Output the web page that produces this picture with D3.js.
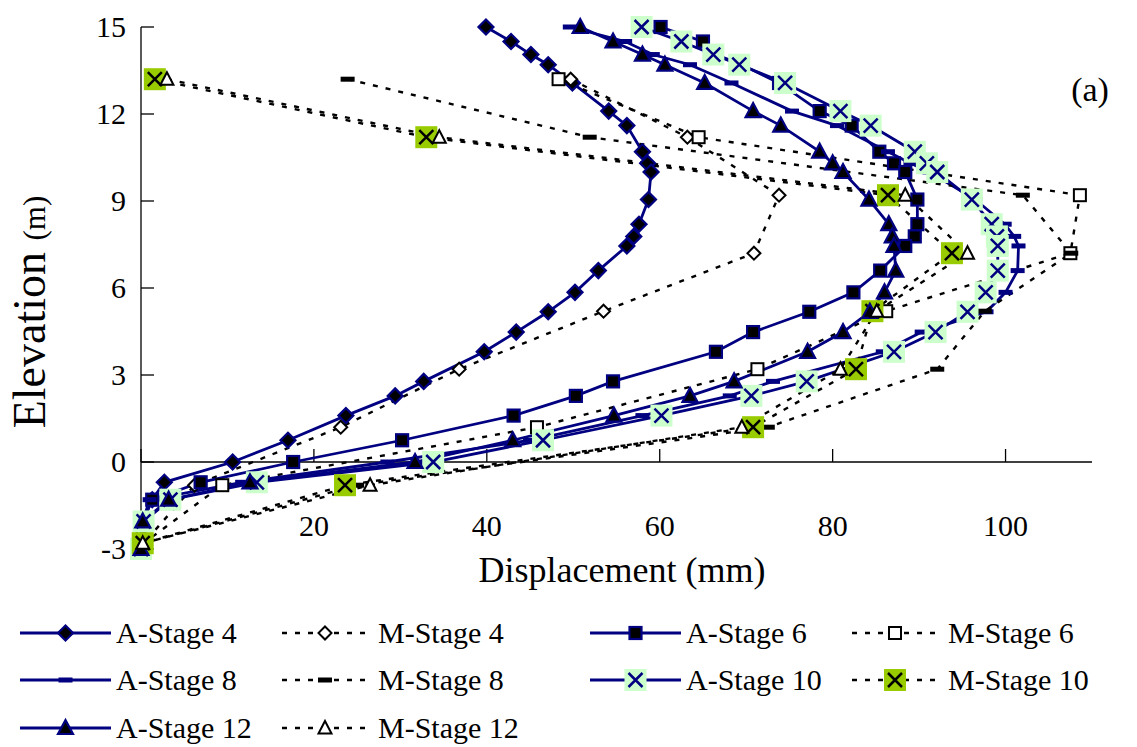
<!DOCTYPE html>
<html>
<head>
<meta charset="utf-8">
<script src="https://cdnjs.cloudflare.com/ajax/libs/d3/7.8.5/d3.min.js"></script>
<style>
  html, body { margin: 0; padding: 0; background: #fff; }
  svg { display: block; }
  text { font-family: "Liberation Serif", "Times New Roman", serif; fill: #000; }
</style>
</head>
<body>
<svg id="chart" width="1137" height="747"></svg>
<script>
// ---------------- data ----------------
const elevA = [15, 14.5, 14.05, 13.7, 13.07, 12.1, 11.6, 10.7, 10.3, 10.0, 9.05, 8.2, 7.78, 7.45, 6.6, 5.85, 5.18, 4.48, 3.8, 2.78, 2.28, 1.6, 0.75, 0, -0.7, -1.3, -2.05, -3];
const dispA4  = [39.9, 42.8, 45.1, 47.1, 49.9, 54.1, 56.2, 58.0, 58.6, 59.0, 58.7, 57.6, 57.0, 56.2, 52.9, 50.2, 47.1, 43.4, 39.7, 32.7, 29.4, 23.7, 17.0, 10.6, 2.7, 1.3, 0.2, 0];
const dispA6  = [60.1, 65.0, 66.5, 69.5, 73.8, 78.5, 82.2, 85.4, 87.1, 88.4, 89.8, 89.8, 89.5, 88.4, 85.5, 82.4, 77.3, 70.8, 66.5, 54.6, 50.3, 43.1, 30.2, 17.6, 6.9, 1.3, 0.2, 0];
const dispA8  = [49.6, 56.0, 59.2, 63.5, 68.3, 75.3, 80.5, 86.4, 89.0, 91.2, 96.5, 99.9, 101.0, 101.5, 101.4, 100.0, 97.8, 90.3, 85.8, 73.1, 68.1, 58.0, 45.0, 28.5, 11.7, 1.0, 0.2, 0];
const dispA10 = [57.9, 62.5, 66.2, 69.2, 74.5, 80.9, 84.4, 89.5, 90.9, 92.1, 96.1, 98.4, 99.0, 99.1, 99.1, 97.7, 95.6, 91.9, 87.1, 77.0, 70.6, 60.2, 46.5, 33.8, 13.4, 3.4, 0.3, 0];
const dispA12 = [50.8, 54.6, 58.0, 60.6, 65.2, 70.8, 74.0, 78.5, 80.0, 81.2, 84.2, 86.5, 86.9, 87.1, 87.3, 86.0, 84.3, 81.2, 77.1, 68.6, 63.5, 54.7, 43.0, 31.7, 12.6, 3.2, 0.2, 0];

const elevM = [13.2, 11.2, 9.2, 7.2, 5.2, 3.2, 1.2, -0.8, -2.8];
const dispM4  = [49.7, 63.2, 73.8, 70.9, 53.5, 36.8, 23.1, 6.2, 0.3];
const dispM6  = [48.3, 64.5, 108.6, 107.5, 86.2, 71.3, 45.8, 9.4, 0.3];
const dispM8  = [23.9, 51.9, 102.0, 107.6, 97.6, 92.1, 72.5, 25.0, 0.3];
const dispM10 = [1.6, 33.0, 86.4, 93.8, 84.6, 82.7, 70.8, 23.6, 0.2];
const dispM12 = [3.0, 34.5, 88.4, 95.6, 85.1, 80.9, 69.5, 26.5, 0.2];

const seriesNames = ["A-Stage 4", "M-Stage 4", "A-Stage 6", "M-Stage 6", "A-Stage 8", "M-Stage 8", "A-Stage 10", "M-Stage 10", "A-Stage 12", "M-Stage 12"];
const xTicks = [0, 20, 40, 60, 80, 100];
const yTicks = [-3, 0, 3, 6, 9, 12, 15];
const xTitle = "Displacement (mm)";
const yTitle = "Elevation";
const yUnit = "(m)";
const panelLabel = "(a)";

// ---------------- setup ----------------
const NAVY = "#000080";
const svg = d3.select("#chart");
const x = d3.scaleLinear().domain([0, 110]).range([141, 1092]);
const y = d3.scaleLinear().domain([-3, 15]).range([549, 27]);

function txt(parent, px, py, str, size, anchor, rot) {
  const g = parent.append("g").attr("transform", `translate(${px},${py})` + (rot ? ` rotate(${rot})` : ""));
  return g.append("text").attr("text-anchor", anchor || "start").attr("font-size", size).text(str);
}

const seriesData = [
  {name: seriesNames[0], xs: dispA4,  ys: elevA, type: "A", marker: "diamondFill"},
  {name: seriesNames[1], xs: dispM4,  ys: elevM, type: "M", marker: "diamondOpen"},
  {name: seriesNames[2], xs: dispA6,  ys: elevA, type: "A", marker: "squareFill"},
  {name: seriesNames[3], xs: dispM6,  ys: elevM, type: "M", marker: "squareOpen"},
  {name: seriesNames[4], xs: dispA8,  ys: elevA, type: "A", marker: "dashNavy"},
  {name: seriesNames[5], xs: dispM8,  ys: elevM, type: "M", marker: "dashBlack"},
  {name: seriesNames[6], xs: dispA10, ys: elevA, type: "A", marker: "xLight"},
  {name: seriesNames[7], xs: dispM10, ys: elevM, type: "M", marker: "xGreen"},
  {name: seriesNames[8], xs: dispA12, ys: elevA, type: "A", marker: "triFill"},
  {name: seriesNames[9], xs: dispM12, ys: elevM, type: "M", marker: "triOpen"}
];

function drawMarker(g, kind) {
  switch (kind) {
    case "diamondFill":
      g.append("path").attr("d", "M0,-7.5L7.5,0L0,7.5L-7.5,0Z").attr("fill", "#000").attr("stroke", NAVY).attr("stroke-width", 2.2); break;
    case "diamondOpen":
      g.append("path").attr("d", "M0,-6.5L6.5,0L0,6.5L-6.5,0Z").attr("fill", "#fff").attr("stroke", "#000").attr("stroke-width", 2); break;
    case "squareFill":
      g.append("rect").attr("x", -6).attr("y", -6).attr("width", 12).attr("height", 12).attr("fill", "#000").attr("stroke", NAVY).attr("stroke-width", 2.2); break;
    case "squareOpen":
      g.append("rect").attr("x", -6).attr("y", -6).attr("width", 12).attr("height", 12).attr("fill", "#fff").attr("stroke", "#000").attr("stroke-width", 2); break;
    case "dashNavy":
      g.append("rect").attr("x", -7).attr("y", -2.5).attr("width", 14).attr("height", 5).attr("fill", NAVY); break;
    case "dashBlack":
      g.append("rect").attr("x", -7).attr("y", -2.5).attr("width", 14).attr("height", 5).attr("fill", "#000"); break;
    case "xLight":
      g.append("rect").attr("x", -11).attr("y", -11).attr("width", 22).attr("height", 22).attr("fill", "#ccffcc");
      g.append("path").attr("d", "M-7,-7L7,7M7,-7L-7,7").attr("stroke", NAVY).attr("stroke-width", 2.5).attr("fill", "none"); break;
    case "xGreen":
      g.append("rect").attr("x", -11).attr("y", -11).attr("width", 22).attr("height", 22).attr("fill", "#99cc00");
      g.append("path").attr("d", "M-7,-7L7,7M7,-7L-7,7").attr("stroke", "#000").attr("stroke-width", 2.5).attr("fill", "none"); break;
    case "triFill":
      g.append("path").attr("d", "M0,-8L7.5,6L-7.5,6Z").attr("fill", "#000").attr("stroke", NAVY).attr("stroke-width", 2.2); break;
    case "triOpen":
      g.append("path").attr("d", "M0,-7L6.5,5.5L-6.5,5.5Z").attr("fill", "#fff").attr("stroke", "#000").attr("stroke-width", 2); break;
  }
}

function lineStyle(sel, type) {
  if (type === "A") sel.attr("stroke", NAVY).attr("stroke-width", 2.8);
  else sel.attr("stroke", "#000").attr("stroke-width", 2.4).attr("stroke-dasharray", "5,8");
  return sel.attr("fill", "none");
}

// ---------------- axes ----------------
const axG = svg.append("g");
axG.append("line").attr("x1", x(0)).attr("x2", x(0)).attr("y1", y(15)).attr("y2", y(-3)).attr("stroke", "#000").attr("stroke-width", 1.3);
axG.append("line").attr("x1", x(0)).attr("x2", x(110)).attr("y1", y(0)).attr("y2", y(0)).attr("stroke", "#000").attr("stroke-width", 1.3);
yTicks.forEach(t => {
  axG.append("line").attr("x1", x(0)).attr("x2", x(0) + 13).attr("y1", y(t)).attr("y2", y(t)).attr("stroke", "#000").attr("stroke-width", 1.3);
  txt(axG, 126, y(t) + 10, String(t), 30, "end");
});
xTicks.forEach(t => {
  axG.append("line").attr("x1", x(t)).attr("x2", x(t)).attr("y1", y(0)).attr("y2", y(0) - 13).attr("stroke", "#000").attr("stroke-width", 1.3);
  txt(axG, x(t), 536, String(t), 30, "middle");
});
txt(axG, 622, 582, xTitle, 36, "middle");
const yt = txt(axG, 45, 312, yTitle + " ", 46, "middle", -90);
yt.append("tspan").attr("font-size", 31).text(yUnit);
txt(axG, 1090, 101, panelLabel, 34, "middle");

// ---------------- series ----------------
const plotG = svg.append("g");
seriesData.forEach(s => {
  const pts = s.xs.map((v, i) => [x(v), y(s.ys[i])]);
  lineStyle(plotG.append("path").attr("d", d3.line()(pts)), s.type);
});
seriesData.forEach(s => {
  s.xs.forEach((v, i) => {
    const g = plotG.append("g").attr("transform", `translate(${x(v)},${y(s.ys[i])})`);
    drawMarker(g, s.marker);
  });
});

// ---------------- legend ----------------
const legG = svg.append("g");
const colX = [20, 282, 590, 852];
const rowY = [633, 680, 728];
seriesData.forEach((s, i) => {
  const col = i % 4, row = Math.floor(i / 4);
  const x0 = colX[col], yy = rowY[row];
  const len = s.type === "A" ? 91 : 86;
  lineStyle(legG.append("line").attr("x1", x0).attr("x2", x0 + len).attr("y1", yy).attr("y2", yy), s.type);
  const mg = legG.append("g").attr("transform", `translate(${x0 + len / 2},${yy})`);
  drawMarker(mg, s.marker);
  txt(legG, x0 + len + (s.type === "A" ? 5 : 10), yy + 10, s.name, 30, "start");
});
</script>
</body>
</html>
